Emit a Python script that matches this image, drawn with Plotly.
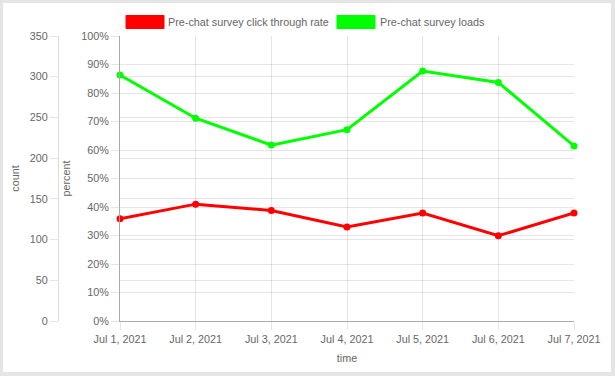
import plotly.graph_objects as go

W, H = 615, 376

dates = ["2021-07-01", "2021-07-02", "2021-07-03", "2021-07-04",
         "2021-07-05", "2021-07-06", "2021-07-07"]
click_rate = [0.359, 0.410, 0.388, 0.330, 0.379, 0.299, 0.379]
loads = [302, 249, 216, 235, 307, 293, 215]

series_names = ["Pre-chat survey click through rate", "Pre-chat survey loads"]
colors = ["#ff0000", "#00ff00"]

FONT = "Liberation Sans, Arial, sans-serif"
FS = 10.8
TXT = "#666666"
GRID = "rgba(0,0,0,0.1)"

def px(x):
    return x / W

def py(y):
    return 1 - y / H

fig = go.Figure()
fig.add_trace(go.Scatter(x=dates, y=click_rate, mode="lines+markers",
                         name=series_names[0], yaxis="y", cliponaxis=False,
                         line=dict(color=colors[0], width=3),
                         marker=dict(color=colors[0], size=7),
                         showlegend=False))
fig.add_trace(go.Scatter(x=dates, y=loads, mode="lines+markers",
                         name=series_names[1], yaxis="y2", cliponaxis=False,
                         line=dict(color=colors[1], width=3),
                         marker=dict(color=colors[1], size=7),
                         showlegend=False))

x0, x1, y0, y1 = 120, 574, 36, 321

shapes = [
    dict(type="rect", xref="paper", yref="paper", x0=px(3), x1=px(611),
         y0=py(372), y1=py(3), fillcolor="white", line=dict(width=0),
         layer="below"),
]
annotations = []
# legend
leg = [(126, 164, 168), (337, 375, 380)]
for (bx0, bx1, tx), c, n in zip(leg, colors, series_names):
    shapes.append(dict(type="rect", xref="paper", yref="paper",
                       x0=px(bx0), x1=px(bx1), y0=py(28.5), y1=py(15.5),
                       fillcolor=c, line=dict(color=c, width=1)))
    annotations.append(dict(xref="paper", yref="paper", x=px(tx), y=py(22),
                            text=n, showarrow=False, xanchor="left",
                            yanchor="middle", xshift=-2,
                            font=dict(family=FONT, size=FS, color=TXT)))

fig.update_layout(
    width=W, height=H,
    margin=dict(l=0, r=0, t=0, b=0, autoexpand=False),
    paper_bgcolor="#e5e5e5",
    plot_bgcolor="rgba(0,0,0,0)",
    font=dict(family=FONT, size=FS, color=TXT),
    shapes=shapes,
    annotations=annotations,
    xaxis=dict(
        domain=[px(x0), px(x1)],
        automargin=True,
        type="date",
        range=[dates[0], dates[-1]],
        tickvals=dates,
        tickformat="%b %-d, %Y",
        ticks="outside", ticklen=8, tickcolor=GRID,
        showgrid=True, gridcolor=GRID,
        showline=True, linecolor="#aaaaaa", linewidth=1,
        zeroline=False,
        title=dict(text="time", standoff=10,
                   font=dict(family=FONT, size=FS, color=TXT)),
        tickfont=dict(family=FONT, size=FS, color=TXT),
    ),
    yaxis=dict(
        domain=[py(y1), py(y0)],
        automargin=True,
        range=[0, 1],
        dtick=0.1,
        tickformat=".0%",
        ticks="outside", ticklen=8, tickcolor=GRID,
        showgrid=True, gridcolor=GRID,
        showline=True, linecolor="#aaaaaa", linewidth=1,
        zeroline=False,
        title=dict(text="percent", standoff=8,
                   font=dict(family=FONT, size=FS, color=TXT)),
        tickfont=dict(family=FONT, size=FS, color=TXT),
    ),
    yaxis2=dict(
        overlaying="y",
        anchor="free",
        automargin=True,
        position=px(58),
        side="left",
        range=[0, 350],
        dtick=50,
        ticks="outside", ticklen=8, tickcolor=GRID,
        showgrid=True, gridcolor=GRID,
        showline=True, linecolor="#dddddd", linewidth=1,
        zeroline=False,
        title=dict(text="count", standoff=7,
                   font=dict(family=FONT, size=FS, color=TXT)),
        tickfont=dict(family=FONT, size=FS, color=TXT),
    ),
)

fig.write_html("out.html",
               config={"displayModeBar": False},
               post_script="document.body.style.margin='0';")
